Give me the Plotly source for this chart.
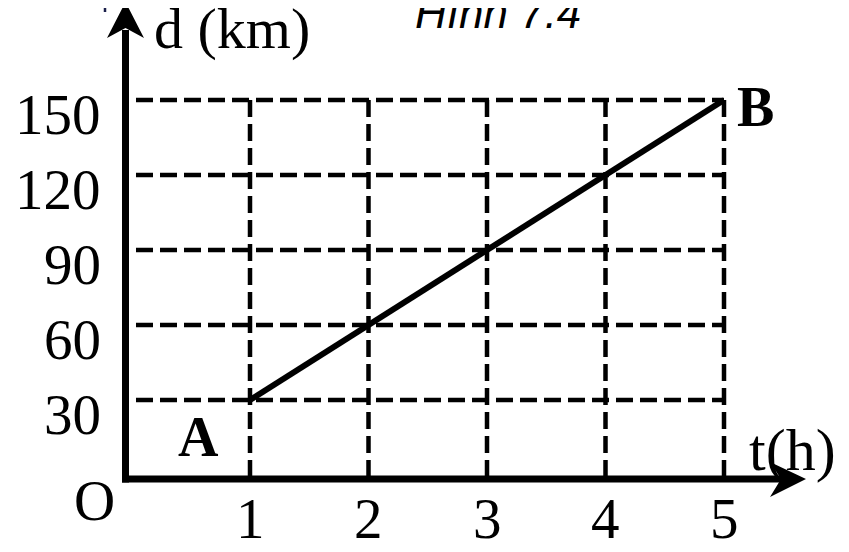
import plotly.graph_objects as go

# ---- data ----
t_hours = [1, 2, 3, 4, 5]
d_km = [30, 60, 90, 120, 150]
x_ticks = [1, 2, 3, 4, 5]
y_ticks = [30, 60, 90, 120, 150]
x_tick_labels = ["1", "2", "3", "4", "5"]
y_tick_labels = ["30", "60", "90", "120", "150"]

PAGE_W, PAGE_H = 849, 552
OFF = 8  # default body margin of the html page
W, H = PAGE_W - OFF, PAGE_H - OFF
# page-pixel <-> data mapping used to set axis ranges
X0_PX, XS = 131.5, 118.5
Y0_PX, YS = 475.0, 2.5


def X(px):
    return (px - X0_PX) / XS


def Y(py):
    return (Y0_PX - py) / YS


FONT = "Liberation Serif, Times New Roman, serif"
DASH = "17px,7px"

fig = go.Figure()

# dashed grid: horizontal
for yv in y_ticks:
    fig.add_trace(go.Scatter(x=[X(136), max(x_ticks)], y=[yv, yv], mode="lines",
                             line=dict(color="black", width=4.5, dash=DASH),
                             hoverinfo="skip", showlegend=False))
# dashed grid: vertical
for xv in x_ticks:
    fig.add_trace(go.Scatter(x=[xv, xv], y=[max(y_ticks), Y(479)], mode="lines",
                             line=dict(color="black", width=4.5, dash=DASH),
                             hoverinfo="skip", showlegend=False))

# main line A -> B
fig.add_trace(go.Scatter(x=t_hours, y=d_km, mode="lines",
                         line=dict(color="black", width=6),
                         hoverinfo="skip", showlegend=False))

shapes = []
# axes
AX_X = 125.5  # page-pixel x of vertical axis
AX_Y = 479.0  # page-pixel y of horizontal axis
shapes.append(dict(type="line", xref="x", yref="y", x0=X(AX_X), x1=X(AX_X),
                   y0=Y(AX_Y + 3.5), y1=Y(30), line=dict(color="black", width=7)))
shapes.append(dict(type="line", xref="x", yref="y", x0=X(AX_X - 3.5), x1=X(781),
                   y0=Y(AX_Y), y1=Y(AX_Y), line=dict(color="black", width=7)))


def path(pts):
    return "M " + " L ".join(f"{X(px)},{Y(py)}" for px, py in pts) + " Z"


# arrowheads
shapes.append(dict(type="path", xref="x", yref="y",
                   path=path([(AX_X, 2), (144, 38), (AX_X, 28), (107, 38)]),
                   fillcolor="black", line=dict(color="black", width=0)))
shapes.append(dict(type="path", xref="x", yref="y",
                   path=path([(806, AX_Y), (770, 462), (781, AX_Y), (770, 497)]),
                   fillcolor="black", line=dict(color="black", width=0)))
# small stray mark at top-left
shapes.append(dict(type="line", xref="x", yref="y", x0=X(105), x1=X(105),
                   y0=Y(OFF), y1=Y(12), line=dict(color="#1a1f4a", width=2.5)))

annotations = []
for yv, lab in zip(y_ticks, y_tick_labels):
    annotations.append(dict(x=X(103), y=yv - 5.6, xref="x", yref="y", text=lab,
                            showarrow=False, xanchor="right", yanchor="middle",
                            font=dict(family=FONT, size=57, color="black")))
for xv, lab in zip(x_ticks, x_tick_labels):
    annotations.append(dict(x=xv, y=Y(518), xref="x", yref="y", text=lab,
                            showarrow=False, xanchor="center", yanchor="middle",
                            font=dict(family=FONT, size=57, color="black")))
annotations.append(dict(x=X(94), y=Y(500), xref="x", yref="y", text="O",
                        showarrow=False, xanchor="center", yanchor="middle",
                        font=dict(family=FONT, size=57, color="black")))
annotations.append(dict(x=X(232), y=Y(28), xref="x", yref="y", text="d (km)",
                        showarrow=False, xanchor="center", yanchor="middle",
                        font=dict(family=FONT, size=58, color="black")))
annotations.append(dict(x=X(792), y=Y(450), xref="x", yref="y", text="t(h)",
                        showarrow=False, xanchor="center", yanchor="middle",
                        font=dict(family=FONT, size=60, color="black")))
annotations.append(dict(x=X(198), y=Y(437), xref="x", yref="y", text="<b>A</b>",
                        showarrow=False, xanchor="center", yanchor="middle",
                        font=dict(family=FONT, size=56, color="black")))
annotations.append(dict(x=X(755), y=Y(107), xref="x", yref="y", text="<b>B</b>",
                        showarrow=False, xanchor="center", yanchor="middle",
                        font=dict(family=FONT, size=56, color="black")))
annotations.append(dict(x=X(498), y=Y(12), xref="x", yref="y", text="Hình 7.4",
                        showarrow=False, xanchor="center", yanchor="middle",
                        font=dict(family="Liberation Sans, Arial, sans-serif", size=44,
                                  color="black", style="italic")))

fig.update_layout(
    width=W, height=H, autosize=False,
    margin=dict(l=0, r=0, t=0, b=0, pad=0),
    paper_bgcolor="white", plot_bgcolor="white",
    xaxis=dict(range=[X(OFF), X(PAGE_W)], visible=False, fixedrange=True),
    yaxis=dict(range=[Y(PAGE_H), Y(OFF)], visible=False, fixedrange=True),
    shapes=shapes, annotations=annotations, showlegend=False,
)

fig.write_html("out.html")
